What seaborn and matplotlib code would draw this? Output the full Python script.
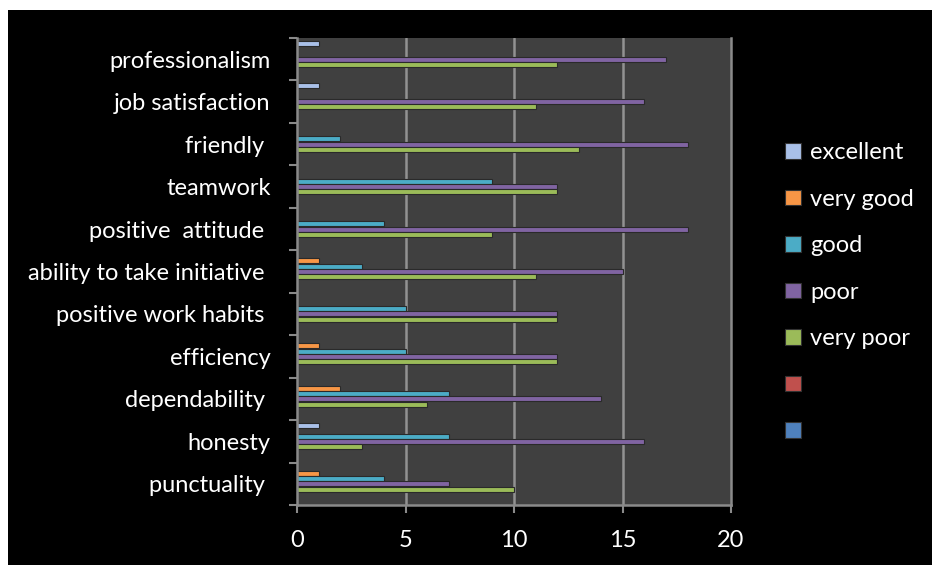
import matplotlib
matplotlib.use("Agg")
import matplotlib.pyplot as plt
from matplotlib.patches import Patch, Rectangle
import pandas as pd
import seaborn as sns

# Skills rated, listed from top to bottom of the chart
skills = [
    "professionalism", "job satisfaction", "friendly ", "teamwork",
    "positive  attitude ", "ability to take initiative ", "positive work habits ",
    "efficiency", "dependability ", "honesty", "punctuality ",
]

# Rating counts per skill (same order as skills)
excellent = [1, 1, 0, 0, 0, 0, 0, 0, 0, 1, 0]
very_good = [0, 0, 0, 0, 0, 1, 0, 1, 2, 0, 1]
good      = [0, 0, 2, 9, 4, 3, 5, 5, 7, 7, 4]
poor      = [17, 16, 18, 12, 18, 15, 12, 12, 14, 16, 7]
very_poor = [12, 11, 13, 12, 9, 11, 12, 12, 6, 3, 10]
series6   = [0] * len(skills)
series7   = [0] * len(skills)

series_names = ["excellent", "very good", "good", "poor", "very poor", "series 6", "series 7"]
legend_labels = ["excellent", "very good", "good", "poor", "very poor", "", ""]
series_values = [excellent, very_good, good, poor, very_poor, series6, series7]
colors = ["#a9c0e8", "#f79646", "#4bacc6", "#8064a2", "#9bbb59", "#c0504d", "#4f81bd"]
x_ticks = [0, 5, 10, 15, 20]

rows = []
for name, vals in zip(series_names, series_values):
    for skill, v in zip(skills, vals):
        rows.append({"skill": skill, "rating": name, "count": v})
df = pd.DataFrame(rows)

sns.set_theme(style="dark")
plt.rcParams["font.family"] = ["Lato", "DejaVu Sans"]

fig = plt.figure(figsize=(9.32, 5.65), dpi=100, facecolor="white")
fig.patches.append(Rectangle((8 / 932, 0), 1, 1 - 10 / 565, transform=fig.transFigure,
                             facecolor="black", edgecolor="none", zorder=-10))
ax = fig.add_axes([297 / 932, 1 - 505 / 565, (731 - 297) / 932, (505 - 38) / 565])
ax.set_facecolor("#404040")

palette = dict(zip(series_names, colors))
sns.barplot(data=df, y="skill", x="count", hue="rating", order=skills,
            hue_order=series_names, palette=palette, orient="h",
            width=0.87, gap=0.05, saturation=1, errorbar=None,
            edgecolor="#2a2a2a", linewidth=0.8, ax=ax, legend=False)

ax.set_xlim(0, 20)
ax.set_xticks(x_ticks)
ax.set_xticklabels([str(t) for t in x_ticks])
ax.set_xlabel("")
ax.set_ylabel("")

# vertical gridlines
for t in x_ticks[1:-1]:
    ax.axvline(t, color="#929292", linewidth=1.8, zorder=0.5)
ax.grid(False)

# category labels, with boundary ticks between categories
ax.set_yticks([i for i in range(len(skills))])
ax.set_yticklabels(skills)
ax.tick_params(axis="y", length=0, pad=19, labelsize=17, labelcolor="white")
ax.set_yticks([i - 0.5 for i in range(len(skills) + 1)], minor=True)
ax.tick_params(axis="y", which="minor", length=6, width=1.5, color="#8a8a8a", left=True)
ax.tick_params(axis="x", length=6, width=1.5, color="#8a8a8a", bottom=True,
               pad=12, labelsize=17, labelcolor="white")

for side in ["left", "bottom", "right"]:
    ax.spines[side].set_visible(True)
    ax.spines[side].set_color("#8a8a8a")
    ax.spines[side].set_linewidth(1.8)
ax.spines["top"].set_visible(False)

handles = [Patch(facecolor=c, edgecolor="#333333", linewidth=0.8) for c in colors]
leg = fig.legend(handles, legend_labels, loc="upper left",
                 bbox_to_anchor=(764 / 932, 1 - 121 / 565), frameon=False,
                 fontsize=17, labelcolor="white", handlelength=0.65, handleheight=0.65,
                 handletextpad=0.4, labelspacing=1.08)

fig.savefig("out.png", dpi=100, facecolor="white")
